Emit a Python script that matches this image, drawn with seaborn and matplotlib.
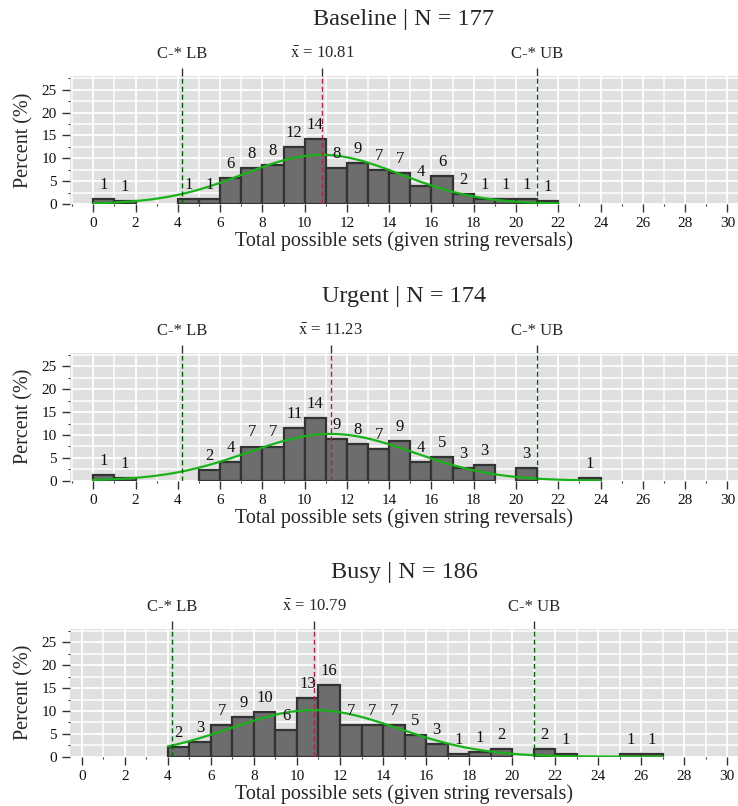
import numpy as np
import pandas as pd
import matplotlib
matplotlib.use("Agg")
import matplotlib.pyplot as plt
import seaborn as sns
from matplotlib.ticker import MultipleLocator

# ---------------- data ----------------
cond_names = ["Baseline", "Urgent", "Busy"]
cond_n = [177, 174, 186]
cond_means = [10.81, 11.23, 10.79]
cond_sds = [3.71, 3.90, 3.91]

baseline_sets = [0, 1, 4, 5, 6, 7, 8, 9, 10, 11, 12, 13, 14, 15, 16, 17, 18, 19, 20, 21]
baseline_counts = [2, 1, 2, 2, 10, 14, 15, 22, 25, 14, 16, 13, 12, 7, 11, 4, 2, 2, 2, 1]
urgent_sets = [0, 1, 5, 6, 7, 8, 9, 10, 11, 12, 13, 14, 15, 16, 17, 18, 20, 23]
urgent_counts = [2, 1, 4, 7, 13, 13, 20, 24, 16, 14, 12, 15, 7, 9, 5, 6, 5, 1]
busy_sets = [4, 5, 6, 7, 8, 9, 10, 11, 12, 13, 14, 15, 16, 17, 18, 19, 21, 22, 25, 26]
busy_counts = [4, 6, 13, 16, 18, 11, 24, 29, 13, 13, 13, 9, 5, 1, 2, 3, 3, 1, 1, 1]

cstar_lb = 4.2
cstar_ub = 21.0
x_ticks = list(range(0, 31, 2))
y_ticks = [0, 5, 10, 15, 20, 25]
x_label = "Total possible sets (given string reversals)"
y_label = "Percent (%)"

all_sets = [baseline_sets, urgent_sets, busy_sets]
all_counts = [baseline_counts, urgent_counts, busy_counts]

# ---------------- style ----------------
sns.set_style("white")
plt.rcParams["font.family"] = ["Liberation Serif", "DejaVu Serif"]
plt.rcParams["mathtext.fontset"] = "stix"

PANEL = "#e0e0e0"
BAR = "#6d6d6d"
EDGE = "#333333"
CURVE = "#1ab21a"
MEANC = "#a8283c"
BOUNDC = "#006400"
TICKC = "#333333"
DASH = (0, (3.6, 2.2))

fig = plt.figure(figsize=(7.38, 8.06), dpi=100)
W, H = 738.0, 806.0
left_px = 70
panel_tops = [76, 352.7, 628.7]
panel_h = 128.0
xmins = [-1.1, -1.1, -0.55]
xmax = 30.5

for i in range(3):
    top = panel_tops[i]
    ax = fig.add_axes([left_px / W, 1 - (top + panel_h) / H, 1 - left_px / W, panel_h / H])
    ax.set_facecolor(PANEL)
    ax.set_axisbelow(True)

    n = cond_n[i]
    df = pd.DataFrame({"sets": all_sets[i], "count": all_counts[i]})
    df["pct"] = df["count"] / n * 100.0
    lo, hi = int(df["sets"].min()), int(df["sets"].max())

    sns.histplot(data=df, x="sets", weights="pct", binwidth=1, binrange=(lo, hi + 1),
                 stat="count", color=BAR, edgecolor=EDGE, linewidth=1.6, alpha=1.0,
                 ax=ax, zorder=2)
    for p in ax.patches:
        if p.get_height() <= 0:
            p.set_visible(False)

    # normal curve over the data range
    xs = np.linspace(lo, hi + 1, 400)
    mu, sd = cond_means[i], cond_sds[i]
    ys = 100.0 * np.exp(-0.5 * ((xs - mu) / sd) ** 2) / (sd * np.sqrt(2 * np.pi))
    sns.lineplot(x=xs, y=ys, color=CURVE, linewidth=1.6, ax=ax, zorder=4)

    # reference lines
    ax.axvline(cstar_lb, color=BOUNDC, lw=1.0, ls=DASH, zorder=5)
    ax.axvline(cstar_ub, color=BOUNDC, lw=1.0, ls=DASH, zorder=5)
    ax.axvline(mu, color=MEANC, lw=1.0, ls=DASH, zorder=5)

    # bar labels (rounded percent)
    for s, pc in zip(df["sets"], df["pct"]):
        ax.text(s + 0.5, pc + 2.2, f"{int(round(pc))}", ha="center", va="baseline",
                fontsize=12, color="#111111", zorder=6)

    ax.set_xlim(xmins[i], xmax)
    ax.set_ylim(0, 28)
    ax.set_xticks(x_ticks)
    ax.set_yticks(y_ticks)
    ax.xaxis.set_minor_locator(MultipleLocator(1))
    ax.yaxis.set_minor_locator(MultipleLocator(2.5))
    ax.grid(True, which="major", color="white", lw=1.3)
    ax.grid(True, which="minor", color="white", lw=1.1)
    for sp in ax.spines.values():
        sp.set_visible(False)
    ax.tick_params(axis="both", which="major", length=5.8, width=1.0, color=TICKC,
                   labelsize=11, pad=3.5, bottom=True, left=True, labelcolor="#111111")
    ax.tick_params(axis="both", which="minor", length=1.5, width=0.8, color=TICKC,
                   bottom=True, left=True)
    ax.set_xlabel(x_label, fontsize=14.5, labelpad=1)
    ax.set_ylabel(y_label, fontsize=14.5, labelpad=6)

    # top axis with reference annotations
    sec = ax.secondary_xaxis("top")
    sec.set_xticks([cstar_lb, mu, cstar_ub],
                   labels=["C-* LB", r"$\bar{\mathrm{x}}$ = " + f"{mu:.2f}", "C-* UB"])
    sec.tick_params(length=5.8, width=1.0, color=TICKC, labelsize=12, pad=4)
    for sp in sec.spines.values():
        sp.set_visible(False)

    # panel title
    fig.text((left_px + W) / 2 / W, 1 - (top - 56) / H, f"{cond_names[i]} | N = {n}",
             ha="center", va="center", fontsize=17.5)

fig.savefig("out.png", dpi=100)
